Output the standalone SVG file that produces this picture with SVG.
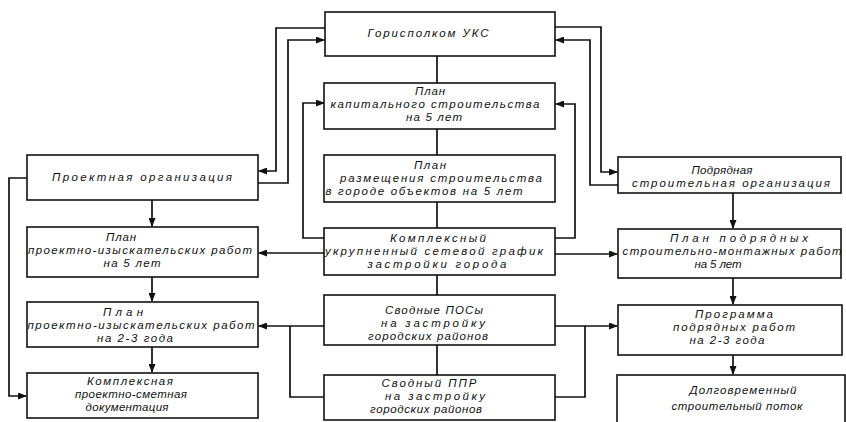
<svg xmlns="http://www.w3.org/2000/svg" width="846" height="422" viewBox="0 0 846 422">
<style>
.box{fill:#fff;stroke:#111;stroke-width:1.6}
.ln{fill:none;stroke:#111;stroke-width:1.7}
.ar{marker-end:url(#ah)}
text{font-family:"Liberation Sans","DejaVu Sans",sans-serif;font-style:italic;font-size:11.5px;fill:#111;text-anchor:middle}
</style>
<defs>
<marker id="ah" markerUnits="userSpaceOnUse" markerWidth="9" markerHeight="7" refX="8" refY="3.5" orient="auto">
<path d="M0,0 L9,3.5 L0,7 z" fill="#111"/>
</marker>
</defs>
<rect width="846" height="422" fill="#fff"/>
<g id="connectors">
<polyline class="ln ar" points="325,28 276,28 276,171 259,171"/>
<polyline class="ln ar" points="258,183 288,183 288,40 324,40"/>
<polyline class="ln ar" points="555,27 601,27 601,172 617,172"/>
<polyline class="ln ar" points="618,185 590,185 590,40 556,40"/>
<line class="ln" x1="437" y1="56" x2="437" y2="83"/>
<line class="ln" x1="437" y1="129" x2="437" y2="155"/>
<line class="ln" x1="437" y1="202" x2="437" y2="228"/>
<line class="ln" x1="437" y1="275" x2="437" y2="295"/>
<line class="ln" x1="437" y1="345" x2="437" y2="375"/>
<polyline class="ln ar" points="324,238 303,238 303,103 324,103"/>
<polyline class="ln ar" points="555,238 575,238 575,104 556,104"/>
<polyline class="ln ar" points="324,253 259,253"/>
<polyline class="ln ar" points="555,254 617,254"/>
<polyline class="ln ar" points="152,200 152,226"/>
<polyline class="ln ar" points="152,277 152,301"/>
<polyline class="ln ar" points="152,347 152,372"/>
<polyline class="ln ar" points="27,178 9,178 9,396 26,396"/>
<polyline class="ln ar" points="324,326 259,326"/>
<polyline class="ln" points="290,326 290,397 324,397"/>
<polyline class="ln ar" points="555,326 617,326"/>
<polyline class="ln" points="585,326 585,397 555,397"/>
<polyline class="ln ar" points="733,193 733,228"/>
<polyline class="ln ar" points="733,278 733,304"/>
<polyline class="ln ar" points="733,355 733,374"/>
</g>
<g id="gorispolkom">
<rect class="box" x="325" y="12" width="230" height="44"/>
<text x="428" y="37" textLength="121" lengthAdjust="spacing">Горисполком УКС</text>
</g>
<g id="plan-kap">
<rect class="box" x="324" y="83" width="231" height="46"/>
<text x="430" y="95" textLength="30" lengthAdjust="spacing">План</text>
<text x="435" y="108" textLength="209" lengthAdjust="spacing">капитального строительства</text>
<text x="434" y="121" textLength="56" lengthAdjust="spacing">на 5 лет</text>
</g>
<g id="plan-razm">
<rect class="box" x="324" y="155" width="231" height="47"/>
<text x="430" y="169" textLength="32" lengthAdjust="spacing">План</text>
<text x="441" y="182" textLength="202" lengthAdjust="spacing">размещения строительства</text>
<text x="424" y="195" textLength="197" lengthAdjust="spacing">в городе объектов на 5 лет</text>
</g>
<g id="kompleks-grafik">
<rect class="box" x="324" y="228" width="231" height="47"/>
<text x="438" y="242" textLength="96" lengthAdjust="spacing">Комплексный</text>
<text x="434" y="255" textLength="218" lengthAdjust="spacing">укрупненный сетевой график</text>
<text x="437" y="268" textLength="139" lengthAdjust="spacing">застройки города</text>
</g>
<g id="svodnye-pos">
<rect class="box" x="324" y="295" width="231" height="50"/>
<text x="434" y="314" textLength="98" lengthAdjust="spacing">Сводные ПОСы</text>
<text x="433" y="327" textLength="104" lengthAdjust="spacing">на застройку</text>
<text x="428" y="340" textLength="120" lengthAdjust="spacing">городских районов</text>
</g>
<g id="svodny-ppr">
<rect class="box" x="324" y="375" width="231" height="45"/>
<text x="429" y="387" textLength="95" lengthAdjust="spacing">Сводный ППР</text>
<text x="435" y="400" textLength="100" lengthAdjust="spacing">на застройку</text>
<text x="426" y="413" textLength="112" lengthAdjust="spacing">городских районов</text>
</g>
<g id="proekt-org">
<rect class="box" x="27" y="155" width="231" height="45"/>
<text x="142" y="181" textLength="180" lengthAdjust="spacing">Проектная   организация</text>
</g>
<g id="plan-pir-5">
<rect class="box" x="27" y="227" width="231" height="50"/>
<text x="121" y="241" textLength="30" lengthAdjust="spacing">План</text>
<text x="140" y="254" textLength="224" lengthAdjust="spacing">проектно-изыскательских работ</text>
<text x="132" y="267" textLength="57" lengthAdjust="spacing">на 5 лет</text>
</g>
<g id="plan-pir-23">
<rect class="box" x="27" y="302" width="231" height="45"/>
<text x="123" y="316" textLength="40" lengthAdjust="spacing">План</text>
<text x="141" y="329" textLength="227" lengthAdjust="spacing">проектно-изыскательских работ</text>
<text x="135" y="342" textLength="76" lengthAdjust="spacing">на 2-3 года</text>
</g>
<g id="kompleks-psd">
<rect class="box" x="27" y="373" width="231" height="45"/>
<text x="130" y="385" textLength="86" lengthAdjust="spacing">Комплексная</text>
<text x="131" y="398" textLength="112" lengthAdjust="spacing">проектно-сметная</text>
<text x="127" y="411" textLength="83" lengthAdjust="spacing">документация</text>
</g>
<g id="podryad-org">
<rect class="box" x="618" y="157" width="223" height="36"/>
<text x="722" y="174" textLength="61" lengthAdjust="spacing">Подрядная</text>
<text x="731" y="187" textLength="198" lengthAdjust="spacing">строительная   организация</text>
</g>
<g id="plan-smr">
<rect class="box" x="618" y="229" width="223" height="49"/>
<text x="739" y="242" textLength="138" lengthAdjust="spacing">План  подрядных</text>
<text x="732" y="255" textLength="219" lengthAdjust="spacing">строительно-монтажных работ</text>
<text x="718" y="268" textLength="47" lengthAdjust="spacing">на 5 лет</text>
</g>
<g id="programma">
<rect class="box" x="618" y="305" width="224" height="50"/>
<text x="734" y="318" textLength="78" lengthAdjust="spacing">Программа</text>
<text x="734" y="331" textLength="122" lengthAdjust="spacing">подрядных работ</text>
<text x="727" y="344" textLength="75" lengthAdjust="spacing">на 2-3 года</text>
</g>
<g id="dolgovrem-potok">
<rect class="box" x="617" y="375" width="228" height="52"/>
<text x="743" y="394" textLength="107" lengthAdjust="spacing">Долговременный</text>
<text x="737" y="410" textLength="131" lengthAdjust="spacing">строительный поток</text>
</g>
</svg>
